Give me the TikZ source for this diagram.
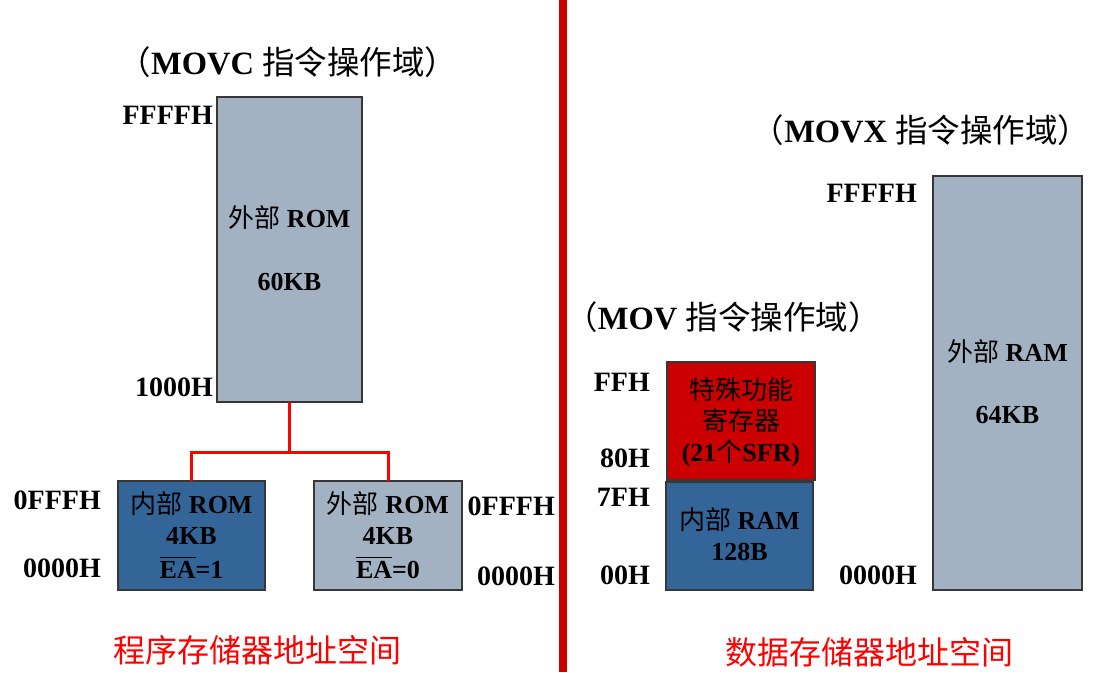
\documentclass[tikz,border=0pt]{standalone}
\usepackage{fontspec}
\setmainfont{Liberation Serif}
\newfontfamily\cjk{Noto Sans CJK SC}
\newcommand\zhtext[1]{{\cjk\mdseries #1}}
\newcommand\barEA{\leavevmode\vbox{\hrule height 1.5pt\kern 2.5pt\hbox{EA}}}
\definecolor{graybox}{RGB}{163,178,194}
\definecolor{bluebox}{RGB}{52,101,153}
\definecolor{redbox}{RGB}{204,0,0}
\definecolor{boxline}{RGB}{55,55,55}
\definecolor{divred}{RGB}{204,0,0}
\tikzset{
  membox/.style={draw=boxline, line width=1.3pt, inner sep=0pt, outer sep=0pt},
  graymem/.style={membox, fill=graybox},
  bluemem/.style={membox, fill=bluebox},
  redmem/.style={membox, fill=redbox},
  addr/.style={font=\fontsize{28}{30}\selectfont\bfseries, anchor=east, inner sep=0pt},
  title/.style={font=\fontsize{32.5}{36}\selectfont\bfseries, inner sep=0pt},
  boxtext/.style={font=\fontsize{26}{30}\selectfont\bfseries, inner sep=0pt},
  caption/.style={font=\fontsize{32}{36}\selectfont\cjk, text=red, inner sep=0pt},
  link/.style={draw=red, line width=3pt}
}
\begin{document}
\begin{tikzpicture}[x=1pt, y=-1pt]
\useasboundingbox (0,0) rectangle (1108,672);
\fill[white] (0,0) rectangle (1108,672);
% divider
\fill[divred] (559,0) rectangle (567,672);

% ---------- left: program memory ----------
\node[title] (t1) at (288,62) {\zhtext{（}MOVC \zhtext{指令操作域）}};
\node[graymem, minimum width=145pt, minimum height=305pt] (rom) at (289.5,249.5) {};
\node[boxtext] (romA) at (289.5,218) {\zhtext{外部} ROM};
\node[boxtext] (romB) at (289.5,282) {60KB};
\node[addr] (a1) at (213,115) {FFFFH};
\node[addr] (a2) at (213,387) {1000H};

\node[bluemem, minimum width=147pt, minimum height=109pt] (introm) at (191.5,535.5) {};
\node[graymem, minimum width=148pt, minimum height=109pt] (extrom) at (388,535.5) {};

\coordinate (j) at (289.5,452);
\draw[link] (rom.south) -- (j);
\draw[link] (j) -| (introm.north);
\draw[link] (j) -| (extrom.north);

\node[boxtext] (ir1) at (191.5,504) {\zhtext{内部} ROM};
\node[boxtext] (ir2) at (191.5,536) {4KB};
\node[boxtext, anchor=base] (ir3) at (191.5,578) {\barEA=1};
\node[boxtext] (er1) at (388,504) {\zhtext{外部} ROM};
\node[boxtext] (er2) at (388,536) {4KB};
\node[boxtext, anchor=base] (er3) at (388,578) {\barEA=0};

\node[addr] (a3) at (101,500) {0FFFH};
\node[addr] (a4) at (101,568) {0000H};
\node[addr] (a5) at (555,506) {0FFFH};
\node[addr] (a6) at (555,576) {0000H};

\node[caption] (c1) at (257,650) {程序存储器地址空间};

% ---------- right: data memory ----------
\node[title] (t2) at (921,130) {\zhtext{（}MOVX \zhtext{指令操作域）}};
\node[title] (t3) at (723,317) {\zhtext{（}MOV \zhtext{指令操作域）}};

\node[graymem, minimum width=149pt, minimum height=414pt] (extram) at (1007.5,383) {};
\node[boxtext] (xr1) at (1007.5,352) {\zhtext{外部} RAM};
\node[boxtext] (xr2) at (1007.5,415) {64KB};

\node[redmem, minimum width=148pt, minimum height=118pt] (sfr) at (741,421) {};
\node[boxtext] (s1) at (741,390) {\zhtext{特殊功能}};
\node[boxtext] (s2) at (741,421) {\zhtext{寄存器}};
\node[boxtext] (s3) at (741,453) {(21\zhtext{个}SFR)};

\node[bluemem, minimum width=147pt, minimum height=108pt] (intram) at (739.5,536) {};
\node[boxtext] (ra1) at (739.5,520) {\zhtext{内部} RAM};
\node[boxtext] (ra2) at (739.5,552) {128B};

\node[addr] (b1) at (650,382) {FFH};
\node[addr] (b2) at (650,458) {80H};
\node[addr] (b3) at (650,497) {7FH};
\node[addr] (b4) at (650,575) {00H};
\node[addr] (b5) at (917,575) {0000H};
\node[addr] (b6) at (917,193) {FFFFH};

\node[caption] (c2) at (869,652) {数据存储器地址空间};
\end{tikzpicture}
\end{document}
